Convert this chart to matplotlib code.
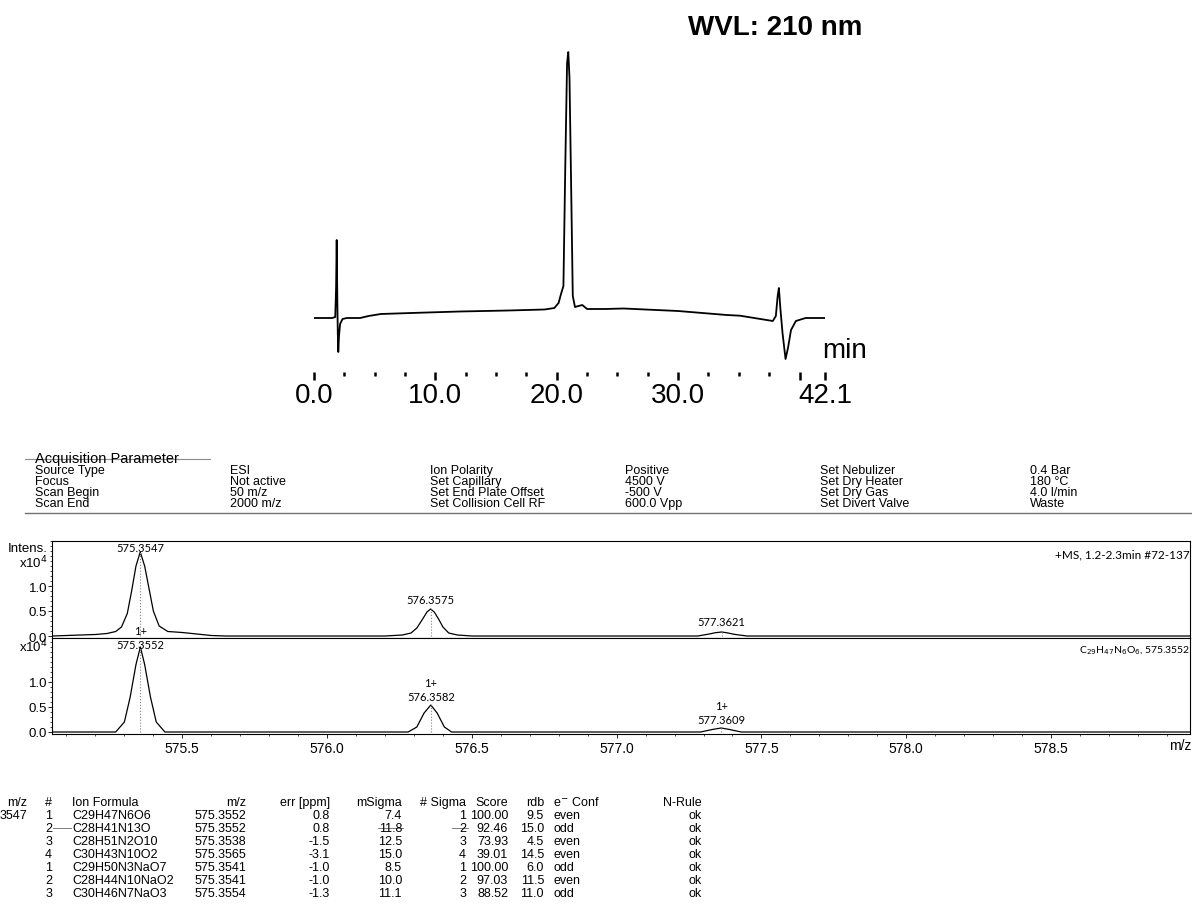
import matplotlib.pyplot as plt
from matplotlib.ticker import FixedLocator, MultipleLocator

plt.rcParams['font.family'] = ['Liberation Sans', 'DejaVu Sans']

W, H = 1192, 920

# UV trace at 210 nm: retention time [min] and absorbance [mAU]
lc_time = [0.0, 1.5, 1.75, 1.82, 1.87, 1.92, 1.96, 2.0, 2.06, 2.15, 2.35, 2.7, 3.8, 4.5, 5.5,
           8.0, 12.0, 16.0, 19.0, 19.8, 20.15, 20.35, 20.55, 20.7, 20.85, 20.95, 21.05, 21.2,
           21.32, 21.5, 21.8, 22.1, 22.5, 24.0, 25.5, 30.0, 34.0, 35.1, 37.8, 38.05, 38.2, 38.3,
           38.42, 38.6, 38.85, 39.05, 39.3, 39.7, 40.5, 42.1]
lc_mau = [0, 0, 1, 30, 78, 20, -15, -34, -18, -6, -1, 0, 0, 2, 4,
          5, 6.5, 7.5, 8.5, 10, 15, 24, 32, 150, 255, 266, 240, 120,
          22, 11, 12, 13, 9, 9, 9.5, 7, 3, 2.3, -3, 2, 22, 30,
          10, -15, -41, -30, -12, -3, 0, 0]
lc_major = [0.0, 10.0, 20.0, 30.0, 40.0, 42.1]
lc_major_labels = ['0.0', '10.0', '20.0', '30.0', '', '42.1']

# measured profile spectrum (m/z, intensity x10^4)
meas_mz = [575.05, 575.10, 575.15, 575.20, 575.24, 575.27, 575.29, 575.31, 575.325, 575.34,
           575.3547, 575.37, 575.385, 575.40, 575.42, 575.45, 575.50, 575.55, 575.60, 575.65,
           576.20, 576.26, 576.29, 576.31, 576.33, 576.345, 576.3575, 576.37, 576.385, 576.40,
           576.42, 576.45, 576.50, 577.28, 577.32, 577.34, 577.3621, 577.38, 577.41, 577.45, 578.98]
meas_int = [0.0, 0.01, 0.02, 0.03, 0.05, 0.09, 0.18, 0.45, 0.9, 1.4,
            1.68, 1.4, 0.95, 0.5, 0.2, 0.09, 0.07, 0.04, 0.01, 0.0,
            0.0, 0.02, 0.06, 0.16, 0.34, 0.48, 0.54, 0.48, 0.34, 0.18,
            0.06, 0.02, 0.0, 0.0, 0.04, 0.065, 0.08, 0.065, 0.03, 0.0, 0.0]
meas_peak_mz = [575.3547, 576.3575, 577.3621]
meas_peak_int = [1.68, 0.54, 0.08]

# simulated isotope pattern for C29H47N6O6
calc_mz = [575.05, 575.27, 575.30, 575.32, 575.34, 575.3552, 575.37, 575.39, 575.41, 575.44,
           576.28, 576.31, 576.335, 576.3582, 576.38, 576.405, 576.43,
           577.29, 577.33, 577.3609, 577.39, 577.43, 578.98]
calc_int = [0.0, 0.0, 0.2, 0.7, 1.35, 1.70, 1.35, 0.7, 0.2, 0.0,
            0.0, 0.1, 0.38, 0.54, 0.38, 0.1, 0.0,
            0.0, 0.05, 0.08, 0.05, 0.0, 0.0]
calc_peak_mz = [575.3552, 576.3582, 577.3609]
calc_peak_int = [1.70, 0.54, 0.08]

acq_rows = [
    ['Source Type', 'ESI', 'Ion Polarity', 'Positive', 'Set Nebulizer', '0.4 Bar'],
    ['Focus', 'Not active', 'Set Capillary', '4500 V', 'Set Dry Heater', '180 °C'],
    ['Scan Begin', '50 m/z', 'Set End Plate Offset', '-500 V', 'Set Dry Gas', '4.0 l/min'],
    ['Scan End', '2000 m/z', 'Set Collision Cell RF', '600.0 Vpp', 'Set Divert Valve', 'Waste'],
]
acq_x = [35, 230, 430, 625, 820, 1030]

tbl_header = ['m/z', '#', 'Ion Formula', 'm/z', 'err [ppm]', 'mSigma', '# Sigma', 'Score', 'rdb',
              'e$^{-}$ Conf', 'N-Rule']
tbl_num = ['1', '2', '3', '4', '1', '2', '3']
tbl_formula = ['C29H47N6O6', 'C28H41N13O', 'C28H51N2O10', 'C30H43N10O2', 'C29H50N3NaO7',
               'C28H44N10NaO2', 'C30H46N7NaO3']
tbl_mz = ['575.3552', '575.3552', '575.3538', '575.3565', '575.3541', '575.3541', '575.3554']
tbl_err = ['0.8', '0.8', '-1.5', '-3.1', '-1.0', '-1.0', '-1.3']
tbl_msigma = ['7.4', '11.8', '12.5', '15.0', '8.5', '10.0', '11.1']
tbl_nsigma = ['1', '2', '3', '4', '1', '2', '3']
tbl_score = ['100.00', '92.46', '73.93', '39.01', '100.00', '97.03', '88.52']
tbl_rdb = ['9.5', '15.0', '4.5', '14.5', '6.0', '11.5', '11.0']
tbl_conf = ['even', 'odd', 'even', 'even', 'odd', 'even', 'odd']
tbl_rule = ['ok'] * 7


def box(x0, y0, x1, y1):
    return [x0 / W, 1 - y1 / H, (x1 - x0) / W, (y1 - y0) / H]


def put(x, y, s, **kw):
    fig.text(x / W, 1 - y / H, s, **kw)


fig = plt.figure(figsize=(W / 100, H / 100), dpi=100)

# --- chromatogram ---
ax = fig.add_axes(box(314, 40, 825, 373))
ax.plot(lc_time, lc_mau, color='black', lw=1.3)
ax.set_xlim(0, 42.1)
ax.set_ylim(-54, 279)
for s in ax.spines.values():
    s.set_visible(False)
ax.set_yticks([])
ax.xaxis.set_major_locator(FixedLocator(lc_major))
ax.set_xticklabels(lc_major_labels)
ax.xaxis.set_minor_locator(FixedLocator([t * 2.5 for t in range(17) if t % 4]))
ax.tick_params(axis='x', which='major', length=6, width=1.8, labelsize=20, pad=1)
ax.tick_params(axis='x', which='minor', length=3, width=1.8)
put(862, 28, 'WVL: 210 nm', ha='right', va='center', fontsize=20, fontweight='bold')
put(822, 351, 'min', ha='left', va='center', fontsize=20)

# --- acquisition parameters ---
fig.add_artist(plt.Line2D([25 / W, 210 / W], [1 - 460 / H] * 2, color='0.55', lw=0.8))
put(35, 459, 'Acquisition Parameter', ha='left', va='center', fontsize=10.5)
for r, row in enumerate(acq_rows):
    for x, s in zip(acq_x, row):
        put(x, 471 + r * 11, s, ha='left', va='center', fontsize=9)
fig.add_artist(plt.Line2D([25 / W, 1], [1 - 514 / H] * 2, color='0.45', lw=1.0))

# --- mass spectra ---
ms_lim = (575.05, 578.98)
ax1 = fig.add_axes(box(52, 542, 1190, 639))
ax2 = fig.add_axes(box(52, 639, 1190, 735), sharex=ax1)
ax1.plot(meas_mz, meas_int, color='black', lw=0.9)
ax2.plot(calc_mz, calc_int, color='black', lw=0.9)
ax1.vlines(meas_peak_mz, 0, meas_peak_int, colors='0.5', linestyles=':', lw=0.8)
ax2.vlines(calc_peak_mz, 0, calc_peak_int, colors='0.5', linestyles=':', lw=0.8)
ax1.set_ylim(-0.04, 1.9)
ax2.set_ylim(-0.04, 1.88)
ax1.set_xlim(*ms_lim)
for a in (ax1, ax2):
    a.set_yticks([0.0, 0.5, 1.0])
    a.set_yticklabels(['0.0', '0.5', '1.0'])
    a.yaxis.set_minor_locator(MultipleLocator(0.1))
    a.tick_params(axis='y', which='major', length=3, width=0.6, labelsize=9.5, pad=0.5)
    a.tick_params(axis='y', which='minor', length=1.5, width=0.5)
    for s in a.spines.values():
        s.set_linewidth(0.8)
ax1.tick_params(axis='x', which='both', bottom=False, labelbottom=False)
ax2.xaxis.set_major_locator(MultipleLocator(0.5))
ax2.xaxis.set_minor_locator(MultipleLocator(0.1))
ax2.xaxis.set_major_formatter(lambda v, p: f'{v:.1f}' if v < 578.9 else '')
ax2.tick_params(axis='x', which='major', length=3, width=0.6, labelsize=10, pad=2)
ax2.tick_params(axis='x', which='minor', length=1.5, width=0.5)

lab = dict(family=['Lato', 'DejaVu Sans'], fontsize=8, ha='center', va='center')
for mz, i in zip(meas_peak_mz, meas_peak_int):
    ax1.text(mz, min(i + 0.2, 1.76), f'{mz:.4f}', **lab)
for mz, i in zip(calc_peak_mz, calc_peak_int):
    y = min(i + 0.16, 1.74)
    ax2.text(mz, y, f'{mz:.4f}', **lab)
    ax2.text(mz, y + 0.28, '1+', clip_on=False, **lab)

put(48, 549, 'Intens.', ha='right', va='center', fontsize=9.5)
put(48, 563, 'x10$^4$', ha='right', va='center', fontsize=9.5)
put(48, 647, 'x10$^4$', ha='right', va='center', fontsize=9.5)
put(1190, 555, '+MS, 1.2-2.3min #72-137', ha='right', va='center', fontsize=8.5,
    family=['Lato', 'DejaVu Sans'])
put(1190, 651, 'C$_{29}$H$_{47}$N$_6$O$_6$, 575.3552', ha='right', va='center', fontsize=7.5,
    family=['Lato', 'DejaVu Sans'])
put(1191, 746, 'm/z', ha='right', va='center', fontsize=10)

# --- formula table ---
ty0, dy = 803, 13
hdr_pos = [(27, 'right'), (52, 'right'), (72, 'left'), (246, 'right'), (330, 'right'),
           (402, 'right'), (466, 'right'), (508, 'right'), (544, 'right'), (553, 'left'),
           (702, 'right')]
for (x, ha), s in zip(hdr_pos, tbl_header):
    put(x, ty0, s, ha=ha, va='center', fontsize=9)
put(27, ty0 + dy, '3547', ha='right', va='center', fontsize=9)
cols = [tbl_num, tbl_formula, tbl_mz, tbl_err, tbl_msigma, tbl_nsigma, tbl_score, tbl_rdb,
        tbl_conf, tbl_rule]
for r in range(len(tbl_num)):
    y = ty0 + dy * (r + 1)
    for (x, ha), col in zip(hdr_pos[1:], cols):
        put(x, y, col[r], ha=ha, va='center', fontsize=9)
# second candidate row is crossed out
y2 = 1 - (ty0 + 2 * dy) / H
for x0, x1 in [(53, 71), (378, 403), (452, 468)]:
    fig.add_artist(plt.Line2D([x0 / W, x1 / W], [y2, y2], color='0.4', lw=0.6))

fig.savefig('out.png', dpi=100)
